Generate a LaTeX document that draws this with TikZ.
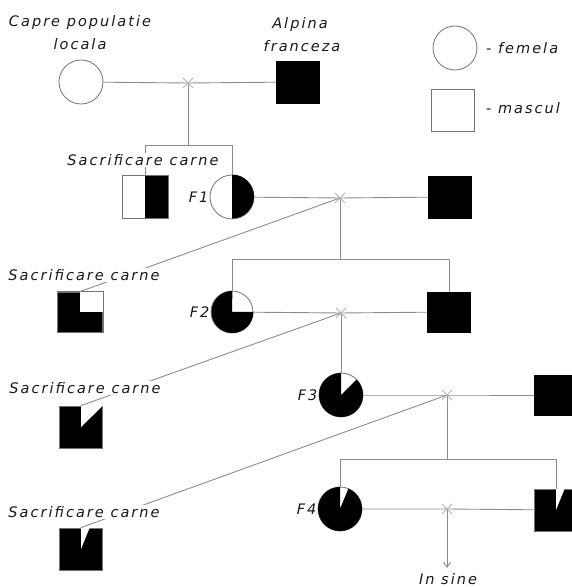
\documentclass[tikz,border=0pt]{standalone}
\usepackage{fontspec}
\setmainfont{DejaVu Sans}
\newfontfamily\lblfont[LetterSpace=14]{DejaVu Sans}
\usetikzlibrary{arrows.meta}
\begin{document}
\begin{tikzpicture}[x=1pt,y=1pt,
  lbl/.style={font=\lblfont\itshape\fontsize{14.5}{16}\selectfont, text=black!90, inner sep=1pt},
  edge/.style={draw=black!55, line width=0.8pt},
  fem/.style={circle, edge, fill=white, minimum size=44pt, inner sep=0pt},
  mal/.style={rectangle, edge, fill=white, minimum width=43pt, minimum height=42pt, inner sep=0pt},
  smale/.style={mal, fill=black, draw=black},
  link/.style={draw=black!45, line width=0.9pt},
  xm/.style={draw=black!30, line width=0.9pt},
]
\clip (0,0) rectangle (572,587);

% founders
\node[fem]   (p0f) at (81,505) {};
\node[smale] (p0m) at (298,505) {};
\coordinate  (x0) at (188,504);
\coordinate  (b0) at (188,442);

% F1 generation
\node[mal, minimum width=45pt, minimum height=43pt] (s1) at (145,390) {};
\node[fem]   (f1) at (232,390) {};
\node[smale] (m1) at (450,390) {};
\coordinate  (x1) at (340,389);
\coordinate  (b1) at (340,328);

% F2 generation
\node[fem, minimum size=42pt] (f2) at (232,275) {};
\node[smale, minimum height=40pt] (m2) at (449,275) {};
\coordinate  (x2) at (341,274);
\node[mal, fill=black, minimum width=45pt, minimum height=40pt] (s2) at (80,275) {};

% F3 generation
\node[fem]   (f3) at (341,192) {};
\node[smale, minimum height=40pt] (m3) at (556,192) {};
\coordinate  (x3) at (447,192);
\coordinate  (b3) at (447,128);
\node[mal, fill=black] (s3) at (81,160) {};

% F4 generation
\node[fem]   (f4) at (340,78) {};
\node[mal, fill=black] (m4) at (556,77) {};
\coordinate  (x4) at (447,78);
\node[mal, fill=black] (s4) at (81,38) {};
\coordinate  (end) at (447,19);

% black shares of each animal
\fill[black] (s1.north) rectangle (s1.south east);
\draw[edge] (s1.south west) rectangle (s1.north east);
\fill[black] (f1.center) -- (f1.north) arc[start angle=90, end angle=-90, radius=22pt] -- cycle;
\fill[black] (f2.center) -- (f2.east) arc[start angle=0, end angle=-270, radius=21pt] -- cycle;
\fill[white] (s2.center) rectangle (s2.north east);
\draw[edge] (s2.south west) rectangle (s2.north east);
\fill[black] (f3.center) -- ++(45:22pt) arc[start angle=45, end angle=-270, radius=22pt] -- cycle;
\fill[white] (s3.center) -- (s3.north) -- (s3.north east) -- cycle;
\fill[black] (f4.center) -- ++(67.5:22pt) arc[start angle=67.5, end angle=-270, radius=22pt] -- cycle;
\fill[white] (s4.center) -- (s4.north) -- ([xshift=8.7pt]s4.north) -- cycle;
\fill[white] (m4.center) -- (m4.north) -- ([xshift=8.7pt]m4.north) -- cycle;

% matings
\draw[link] (p0f) -- (x0) -- (p0m);
\draw[link] (f1) -- (x1) -- (m1);
\draw[link] (f2) -- (x2) -- (m2);
\draw[link] (f3) -- (x3) -- (m3);
\draw[link] (f4) -- (x4) -- (m4);

% offspring bars
\draw[link] (x0) -- (b0);
\draw[link] (s1.north) -- (s1.north |- b0) -- (f1.north |- b0) -- (f1.north);
\draw[link] (x1) -- (b1);
\draw[link] (f2.north) -- (f2.north |- b1) -- (m2.north |- b1) -- (m2.north);
\draw[link] (x2) -- (f3.north);
\draw[link] (x3) -- (b3);
\draw[link] (f4.north) -- (f4.north |- b3) -- (m4.north |- b3) -- (m4.north);

% males culled for meat
\draw[link] (x1) -- (s2.north);
\draw[link] (x2) -- (s3.north);
\draw[link] (x3) -- (s4.north);

% continuation
\draw[link, -{Straight Barb[length=5pt, width=7pt]}] (x4) -- (end);

% mating marks
\foreach \c in {x0,x1,x2,x3,x4}
  \draw[xm] ([shift={(-5,-5)}]\c) -- ([shift={(5,5)}]\c)
            ([shift={(-5,5)}]\c) -- ([shift={(5,-5)}]\c);

% labels
\node[lbl] (tcap) at (80,564) {Capre populatie};
\node[lbl] (tloc) at (80,543) {locala};
\node[lbl] (talp) at (300,562) {Alpina};
\node[lbl] (tfra) at (302,541) {franceza};
\node[lbl, fill=white] (ts1) at (143,427) {Sacrificare carne};
\node[lbl, fill=white] (ts2) at (84,312) {Sacrificare carne};
\node[lbl, fill=white] (ts3) at (85,199) {Sacrificare carne};
\node[lbl, fill=white] (ts4) at (84,75) {Sacrificare carne};
\node[lbl, anchor=east] (lf1) at (f1.west) {F1};
\node[lbl, anchor=east] (lf2) at (f2.west) {F2};
\node[lbl, anchor=east] (lf3) at (f3.west) {F3};
\node[lbl, anchor=east] (lf4) at (f4.west) {F4};
\node[lbl] (tins) at (448,8) {In sine};

% legend
\node[fem] (lgf) at (455,539) {};
\node[lbl, anchor=west] (lgft) at (485,539) {- femela};
\node[mal] (lgm) at (453,477) {};
\node[lbl, anchor=west] (lgmt) at (485,479) {- mascul};
\end{tikzpicture}
\end{document}
